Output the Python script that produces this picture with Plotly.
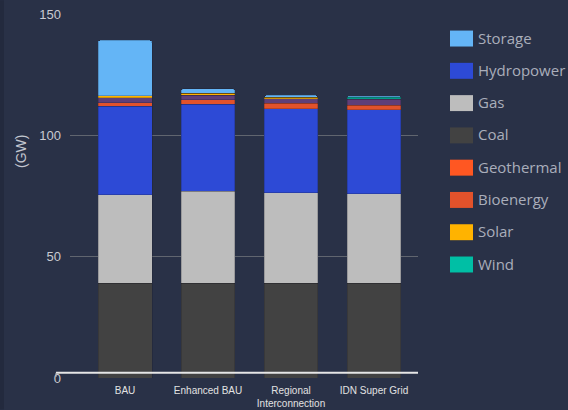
import plotly.graph_objects as go

categories = ["BAU", "Enhanced BAU", "Regional<br>Interconnection", "IDN Super Grid"]
coal = [39.1, 39.1, 39.1, 39.1]
gas = [36.5, 37.9, 37.3, 36.8]
hydropower = [36.3, 35.9, 34.6, 34.6]
bioenergy = [1.5, 1.8, 2.2, 2.0]
geothermal = [2.1, 1.9, 1.9, 2.4]
solar = [0.8, 0.8, 0.6, 0.1]
wind = [0.0, 0.0, 0.0, 0.6]
storage = [22.9, 1.8, 0.8, 0.6]

y_ticks = [0, 50, 100, 150]

# stack order bottom -> top
stack = [
    ("Coal", coal, "#424242"),
    ("Gas", gas, "#BDBDBD"),
    ("Hydropower", hydropower, "#2D4AD6"),
    ("Bioenergy", bioenergy, "#E2522B"),
    ("Geothermal", geothermal, "#5F3F78"),
    ("Solar", solar, "#FFB300"),
    ("Wind", wind, "#00BFA5"),
    ("Storage", storage, "#64B5F6"),
]
legend_items = [
    ("Storage", "#64B5F6"),
    ("Hydropower", "#2D4AD6"),
    ("Gas", "#BDBDBD"),
    ("Coal", "#424242"),
    ("Geothermal", "#FF5722"),
    ("Bioenergy", "#E2522B"),
    ("Solar", "#FFB300"),
    ("Wind", "#00BFA5"),
]

W, H = 568, 410
L, R = 70, 418
T, B = 13.7, 378.5
pw, ph = R - L, B - T

def px(x):
    return (x - L) / pw

def py(y):
    return (B - y) / ph

fig = go.Figure()
for name, vals, col in stack:
    fig.add_trace(go.Bar(
        x=categories, y=vals, name=name, marker_color=col,
        marker_line=dict(width=0.6, color="rgba(20,20,30,0.35)"),
        showlegend=False,
    ))

shapes = []
annotations = []
# left dark strip
shapes.append(dict(type="rect", xref="paper", yref="paper", x0=px(0), x1=px(4), y0=py(H), y1=py(0),
                   fillcolor="#232a3e", line_width=0, layer="below"))
# white baseline
ywl = (B - 373.3) / (ph / 150)
shapes.append(dict(type="line", xref="paper", yref="y", x0=px(56), x1=px(418), y0=ywl, y1=ywl,
                   line=dict(color="#e6e6e6", width=2), layer="above"))
shapes.append(dict(type="line", xref="paper", yref="y", x0=px(56), x1=px(56), y0=ywl, y1=ywl - 1.7,
                   line=dict(color="#bbbbbb", width=1), layer="above"))

for i, (name, col) in enumerate(legend_items):
    cy = 38.3 + 32.35 * i
    shapes.append(dict(type="rect", xref="paper", yref="paper",
                       x0=px(450), x1=px(473), y0=py(cy + 8), y1=py(cy - 8),
                       fillcolor=col, line_width=0))
    annotations.append(dict(xref="paper", yref="paper", x=px(476), y=py(cy - 1), text=name,
                            showarrow=False, xanchor="left", yanchor="middle",
                            font=dict(family="Open Sans, sans-serif", size=15, color="#a9aebb")))

annotations.append(dict(xref="paper", yref="paper", x=px(21), y=py(152), text="(GW)", textangle=-90,
                        showarrow=False, xanchor="center", yanchor="middle",
                        font=dict(family="Liberation Sans, Arial", size=14, color="#c3c6cf")))

fig.update_layout(
    width=W, height=H,
    margin=dict(l=L, r=W - R, t=T, b=H - B, pad=0),
    paper_bgcolor="#293147", plot_bgcolor="#293147",
    barmode="stack", bargap=0.35, barcornerradius=3,
    shapes=shapes, annotations=annotations,
    showlegend=False,
    font=dict(family="Liberation Sans, Arial", color="#dddddd"),
)
fig.update_xaxes(range=[-0.663, 3.53], showgrid=False, showline=False, zeroline=False, automargin=False,
                 tickfont=dict(size=10, color="#e2e2e2"), ticks="", ticklabelstandoff=5)
fig.update_yaxes(range=[0, 150], tickvals=y_ticks, showgrid=True, gridcolor="#60656f", gridwidth=1,
                 zeroline=False, showline=False, ticks="", ticklabelstandoff=8, automargin=False,
                 tickfont=dict(size=13, color="#c9cbd1"))

fig.write_html("out.html")
